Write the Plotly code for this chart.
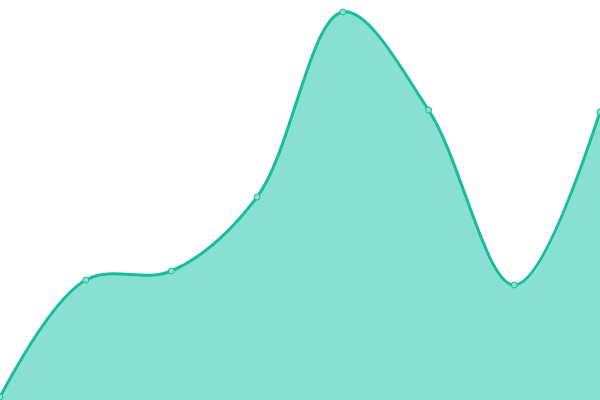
import plotly.graph_objects as go

# values (pixel height from bottom edge)
x_vals = [0, 1, 2, 3, 4, 5, 6, 7]
y_vals = [3, 120, 129, 203, 388, 290, 115, 288]

fig = go.Figure()
fig.add_trace(go.Scatter(
    x=x_vals,
    y=y_vals,
    mode='lines+markers',
    line=dict(color='#1abc9c', width=3, shape='spline', smoothing=1),
    marker=dict(size=6, color='#88e0d0', line=dict(color='#1abc9c', width=1)),
    fill='tozeroy',
    fillcolor='#88e0d0',
    cliponaxis=False,
))

fig.update_layout(
    width=600,
    height=400,
    margin=dict(l=0, r=0, t=0, b=0),
    paper_bgcolor='white',
    plot_bgcolor='white',
    showlegend=False,
    xaxis=dict(range=[0, 7], visible=False, fixedrange=True),
    yaxis=dict(range=[0, 400], visible=False, fixedrange=True),
)

# page has a default 8px body margin, drop it so the chart fills the window
fig.write_html(
    "out.html",
    config={'displayModeBar': False},
    post_script="document.body.style.margin='0';document.body.style.overflow='hidden';",
)
